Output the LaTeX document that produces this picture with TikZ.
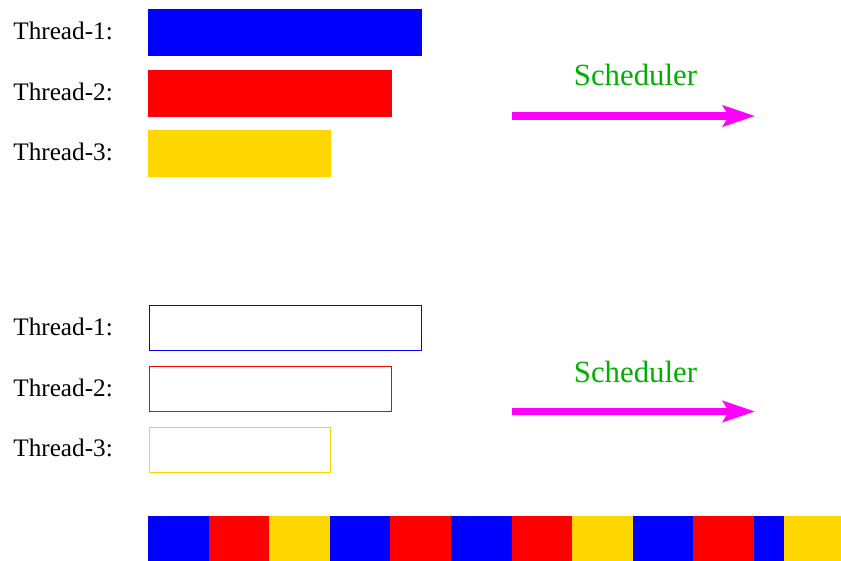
\documentclass[tikz,border=0pt]{standalone}
\usepackage{fontspec}
\setmainfont{Liberation Serif}
\usepackage{tikz}
\usetikzlibrary{arrows.meta,positioning}
\definecolor{thblue}{RGB}{0,0,255}
\definecolor{thred}{RGB}{255,0,0}
\definecolor{thgold}{RGB}{255,215,0}
\definecolor{schedgreen}{RGB}{0,176,0}
\definecolor{schedpink}{RGB}{255,0,255}

\begin{document}
\begin{tikzpicture}[
x=0.5pt, y=-0.5pt,
threadlabel/.style={anchor=base west, inner sep=0, font=\fontsize{12.6}{15}\selectfont},
bar/.style={anchor=north west, inner sep=0, minimum height=23.5pt},
hollow/.style={anchor=north west, inner sep=0, minimum height=22.5pt, draw, line width=0.5pt},
sched/.style={anchor=base, inner sep=0, text=schedgreen, font=\fontsize{15.4}{18}\selectfont},
arrow/.style={-{Stealth[length=16pt, width=10.4pt, inset=3pt]}, line width=3.7pt, schedpink}
]
\useasboundingbox (0,0) rectangle (841,561);

% threads before scheduling
\node[threadlabel] (t1) at (13,40) {Thread-1:};
\node[threadlabel] (t2) at (13,100.5) {Thread-2:};
\node[threadlabel] (t3) at (13,160.5) {Thread-3:};
\node[bar, fill=thblue, minimum width=137pt] (b1) at (148,9) {};
\node[bar, fill=thred, minimum width=122pt] (b2) at (148,69.5) {};
\node[bar, fill=thgold, minimum width=91.5pt] (b3) at (148,130) {};
\node[sched] (sch1) at (635.5,86) {Scheduler};
\coordinate (from1) at (512,116);
\coordinate (to1) at (755,116);
\draw[arrow] (from1) -- (to1);

% threads after scheduling
\node[threadlabel] (u1) at (13,335.5) {Thread-1:};
\node[threadlabel] (u2) at (13,396) {Thread-2:};
\node[threadlabel] (u3) at (13,456) {Thread-3:};
\node[hollow, draw=thblue, minimum width=136pt] (h1) at (149,305.5) {};
\node[hollow, draw=thred, minimum width=120.75pt] (h2) at (149,366) {};
\node[hollow, draw=thgold, minimum width=90.5pt] (h3) at (149,426.5) {};
\node[sched] (sch2) at (635.5,382) {Scheduler};
\coordinate (from2) at (512,411.5);
\coordinate (to2) at (755,411.5);
\draw[arrow] (from2) -- (to2);

% time slices
\foreach \s/\e/\c in {0/1/thblue, 1/2/thred, 2/3/thgold, 3/4/thblue, 4/5/thred, 5/6/thblue,
  6/7/thred, 7/8/thgold, 8/9/thblue, 9/10/thred, 10/10.5/thblue, 10.5/11.5/thgold}
  \fill[\c] ({148+\s*60.6},516) rectangle ({148+\e*60.6},561);
\end{tikzpicture}
\end{document}
